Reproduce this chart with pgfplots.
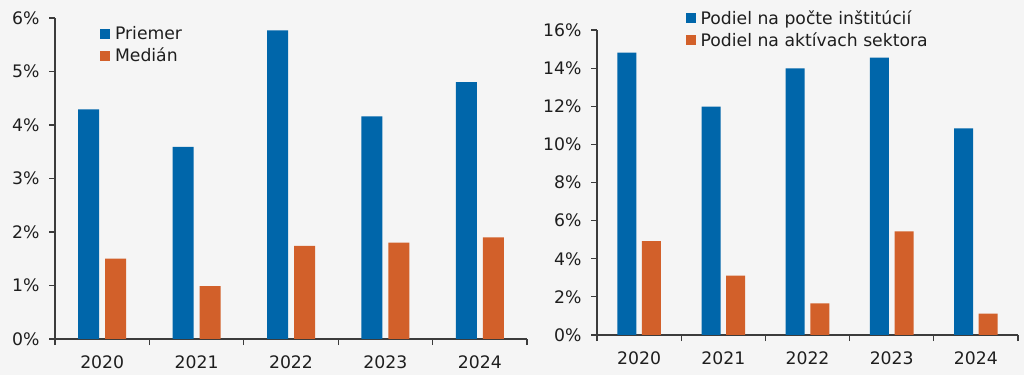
\documentclass[border=0pt]{standalone}
\usepackage{fontspec}
\setmainfont{DejaVu Sans}
\usepackage{pgfplots}
\pgfplotsset{compat=1.18}
\definecolor{bgc}{RGB}{245,245,245}
\definecolor{cblue}{RGB}{0,102,170}
\definecolor{corange}{RGB}{210,96,42}
\definecolor{txt}{RGB}{30,30,30}
\definecolor{axc}{RGB}{60,60,60}
\pgfplotsset{
  sqleg/.style={legend image code/.code={\fill[##1,draw=none] (0bp,-5bp) rectangle (10bp,5bp);}},
  panel/.style={
    scale only axis,
    axis lines*=left,
    axis line style={axc, line width=1.2bp},
    xmin=-0.5, xmax=4.5, ymin=0,
    xtick={0,1,2,3,4},
    xticklabels={2020,2021,2022,2023,2024},
    minor xtick={-0.5,0.5,1.5,2.5,3.5,4.5},
    major x tick style={draw=none},
    minor x tick style={axc, line width=1.2bp},
    y tick style={axc, line width=1.2bp},
    tick align=outside,
    major tick length=6bp,
    minor tick length=6bp,
    tick label style={font=\fontsize{17.3}{20}\selectfont, text=txt},
    xticklabel style={yshift=-7bp},
    yticklabel style={xshift=-6bp},
    /pgf/number format/assume math mode=true,
    yticklabel={\pgfmathprintnumber{\tick}\%},
    legend style={draw=none, fill=none, font=\fontsize{17.3}{20}\selectfont, text=txt,
      anchor=north west, row sep=3bp, inner sep=0pt, column sep=3bp},
    legend cell align=left,
  }
}
\begin{document}
\begin{tikzpicture}
\fill[bgc] (0bp,0bp) rectangle (1024bp,375bp);
\path[use as bounding box] (0bp,0bp) rectangle (1024bp,375bp);
\begin{axis}[panel, at={(55bp,36bp)}, anchor=south west, width=472bp, height=321bp,
  ymax=6, ytick={0,1,2,3,4,5,6},
  legend style={at={(0.095,0.98)}}]
\addplot[ybar, bar width=21bp, bar shift=-13.5bp, fill=cblue, draw=none, sqleg]
  coordinates {(0,4.29) (1,3.59) (2,5.77) (3,4.16) (4,4.80)};
\addlegendentry{Priemer}
\addplot[ybar, bar width=21bp, bar shift=13.5bp, fill=corange, draw=none, sqleg]
  coordinates {(0,1.50) (1,0.99) (2,1.74) (3,1.80) (4,1.90)};
\addlegendentry{Medián}
\end{axis}
\begin{axis}[panel, at={(597bp,40bp)}, anchor=south west, width=421bp, height=305bp,
  ymax=16, ytick={0,2,4,6,8,10,12,14,16},
  legend style={at={(0.21,1.072)}}]
\addplot[ybar, bar width=19bp, bar shift=-12.3bp, fill=cblue, draw=none, sqleg]
  coordinates {(0,14.81) (1,11.98) (2,13.99) (3,14.55) (4,10.84)};
\addlegendentry{Podiel na počte inštitúcií}
\addplot[ybar, bar width=19bp, bar shift=12.3bp, fill=corange, draw=none, sqleg]
  coordinates {(0,4.93) (1,3.11) (2,1.66) (3,5.44) (4,1.12)};
\addlegendentry{Podiel na aktívach sektora}
\end{axis}
\end{tikzpicture}
\end{document}
